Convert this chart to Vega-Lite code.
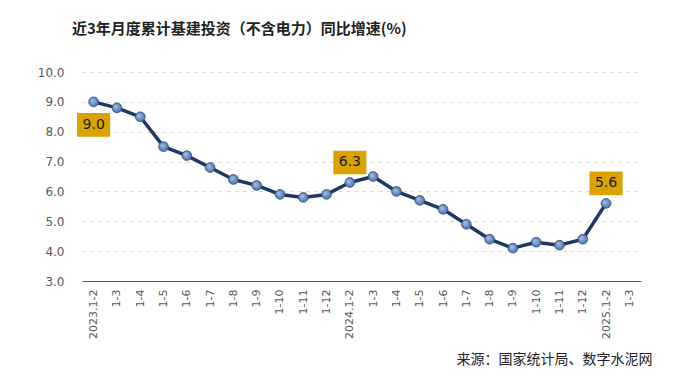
{
  "$schema": "https://vega.github.io/schema/vega-lite/v6.json",
  "width": 559,
  "height": 209,
  "autosize": {"type": "none"},
  "padding": {"left": 82, "top": 72, "right": 34, "bottom": 96},
  "background": "white",
  "title": {
    "text": "近3年月度累计基建投资（不含电力）同比增速(%)",
    "anchor": "start",
    "frame": "group",
    "dx": -10,
    "offset": 29,
    "font": "Noto Sans CJK SC",
    "fontSize": 15,
    "fontWeight": "bold",
    "color": "#222222"
  },
  "config": {
    "view": {"stroke": null},
    "axis": {"labelFont": "DejaVu Sans", "labelColor": "#595959"}
  },
  "data": {
    "values": [
      {"t": "2023.1-2", "v": 9.0},
      {"t": "2023.1-3", "v": 8.8},
      {"t": "2023.1-4", "v": 8.5},
      {"t": "2023.1-5", "v": 7.5},
      {"t": "2023.1-6", "v": 7.2},
      {"t": "2023.1-7", "v": 6.8},
      {"t": "2023.1-8", "v": 6.4},
      {"t": "2023.1-9", "v": 6.2},
      {"t": "2023.1-10", "v": 5.9},
      {"t": "2023.1-11", "v": 5.8},
      {"t": "2023.1-12", "v": 5.9},
      {"t": "2024.1-2", "v": 6.3},
      {"t": "2024.1-3", "v": 6.5},
      {"t": "2024.1-4", "v": 6.0},
      {"t": "2024.1-5", "v": 5.7},
      {"t": "2024.1-6", "v": 5.4},
      {"t": "2024.1-7", "v": 4.9},
      {"t": "2024.1-8", "v": 4.4},
      {"t": "2024.1-9", "v": 4.1},
      {"t": "2024.1-10", "v": 4.3},
      {"t": "2024.1-11", "v": 4.2},
      {"t": "2024.1-12", "v": 4.4},
      {"t": "2025.1-2", "v": 5.6}
    ]
  },
  "encoding": {
    "x": {
      "field": "t",
      "type": "ordinal",
      "sort": null,
      "scale": {
        "type": "point",
        "padding": 0.5,
        "domain": ["2023.1-2","2023.1-3","2023.1-4","2023.1-5","2023.1-6","2023.1-7","2023.1-8","2023.1-9","2023.1-10","2023.1-11","2023.1-12","2024.1-2","2024.1-3","2024.1-4","2024.1-5","2024.1-6","2024.1-7","2024.1-8","2024.1-9","2024.1-10","2024.1-11","2024.1-12","2025.1-2","2025.1-3"]
      },
      "axis": {
        "title": "来源：国家统计局、数字水泥网",
        "titleFont": "Noto Sans CJK SC",
        "titleFontSize": 14,
        "titleFontWeight": "normal",
        "titleColor": "#222222",
        "titleAnchor": "end",
        "titleAlign": "right",
        "titleBaseline": "alphabetic",
        "titleX": 570,
        "titleY": 82,
        "labelAngle": -90,
        "labelAlign": "right",
        "labelBaseline": "middle",
        "labelFontSize": 11,
        "labelPadding": 8,
        "labelExpr": "indexof(datum.value, '.1-2') > 0 ? datum.value : slice(datum.value, 5)",
        "ticks": false,
        "domainColor": "#595959",
        "domainWidth": 1,
        "grid": false
      }
    },
    "y": {
      "field": "v",
      "type": "quantitative",
      "scale": {"domain": [3, 10], "nice": false, "zero": false},
      "axis": {
        "title": null,
        "values": [3, 4, 5, 6, 7, 8, 9, 10],
        "format": ".1f",
        "labelFontSize": 12,
        "labelPadding": 18,
        "ticks": false,
        "domain": false,
        "grid": true,
        "gridColor": "#d9d9d9",
        "gridDash": [4, 4],
        "gridWidth": 1
      }
    }
  },
  "layer": [
    {
      "mark": {"type": "line", "color": "#1f3864", "strokeWidth": 3.5, "strokeJoin": "round"}
    },
    {
      "mark": {
        "type": "point",
        "filled": true,
        "size": 95,
        "opacity": 1,
        "stroke": "#2c4d75",
        "strokeWidth": 0.8,
        "fill": {
          "gradient": "radial",
          "x1": 0.35, "y1": 0.35, "r1": 0,
          "x2": 0.5, "y2": 0.5, "r2": 0.6,
          "stops": [
            {"offset": 0, "color": "#a9c4e8"},
            {"offset": 1, "color": "#3b67a3"}
          ]
        }
      }
    },
    {
      "transform": [{"filter": "datum.t == '2023.1-2'"}],
      "layer": [
        {
          "mark": {"type": "point", "shape": "M-1.4,-1L1.4,-1L1.4,1L-1.4,1Z", "size": 560, "filled": true, "fill": "#DAA300", "opacity": 1, "strokeWidth": 0, "yOffset": 23}
        },
        {
          "mark": {"type": "text", "dy": 23, "font": "DejaVu Sans", "fontSize": 14, "color": "#1a1a1a", "baseline": "middle", "align": "center"},
          "encoding": {"text": {"field": "v", "type": "quantitative", "format": ".1f"}}
        }
      ]
    },
    {
      "transform": [{"filter": "datum.t == '2024.1-2' || datum.t == '2025.1-2'"}],
      "layer": [
        {
          "mark": {"type": "point", "shape": "M-1.4,-1L1.4,-1L1.4,1L-1.4,1Z", "size": 560, "filled": true, "fill": "#DAA300", "opacity": 1, "strokeWidth": 0, "yOffset": -20}
        },
        {
          "mark": {"type": "text", "dy": -20, "font": "DejaVu Sans", "fontSize": 14, "color": "#1a1a1a", "baseline": "middle", "align": "center"},
          "encoding": {"text": {"field": "v", "type": "quantitative", "format": ".1f"}}
        }
      ]
    }
  ]
}
